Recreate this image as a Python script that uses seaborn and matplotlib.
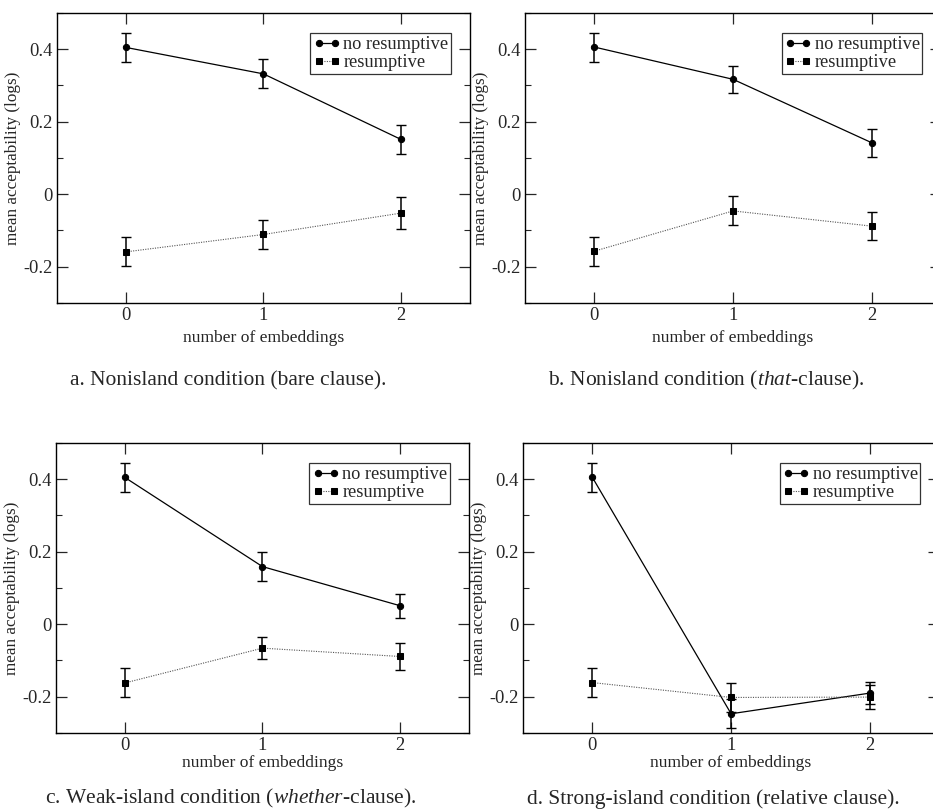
import numpy as np
import pandas as pd
import seaborn as sns
import matplotlib.pyplot as plt
from matplotlib.ticker import MultipleLocator

embeddings = [0, 1, 2]
conditions = ['no resumptive', 'resumptive']
panels = ['a', 'b', 'c', 'd']
captions = {
    'a': 'a. Nonisland condition (bare clause).',
    'b': 'b. Nonisland condition ($\\it{that}$-clause).',
    'c': 'c. Weak-island condition ($\\it{whether}$-clause).',
    'd': 'd. Strong-island condition (relative clause).',
}

# means
no_res_mean = {'a': [0.405, 0.332, 0.151], 'b': [0.406, 0.317, 0.142],
               'c': [0.405, 0.159, 0.051], 'd': [0.405, -0.247, -0.190]}
res_mean = {'a': [-0.159, -0.111, -0.052], 'b': [-0.157, -0.046, -0.088],
            'c': [-0.162, -0.066, -0.089], 'd': [-0.161, -0.202, -0.201]}
# error bar half widths
no_res_err = {'a': [0.040, 0.040, 0.039], 'b': [0.040, 0.038, 0.038],
              'c': [0.040, 0.040, 0.033], 'd': [0.040, 0.040, 0.031]}
res_err = {'a': [0.040, 0.040, 0.044], 'b': [0.040, 0.040, 0.038],
           'c': [0.040, 0.031, 0.038], 'd': [0.040, 0.040, 0.034]}


def get_data():
    rows = []
    for p in panels:
        for cond, means, errs in [('no resumptive', no_res_mean, no_res_err),
                                  ('resumptive', res_mean, res_err)]:
            for x, m, e in zip(embeddings, means[p], errs[p]):
                rows.append({'panel': p, 'condition': cond, 'embeddings': x, 'mean': m, 'err': e})
    return pd.DataFrame(rows)


styles = {
    'no resumptive': dict(color='black', linestyle='-', marker='o', lw=0.9, ms=4.5),
    'resumptive': dict(color='#555555', linestyle=(0, (1, 1.2)), marker='s', lw=0.8, ms=4),
}

# axes rectangles [left, bottom, width, height] in figure fractions
positions = {
    'a': [0.0611, 0.6264, 0.4426, 0.3576],
    'b': [0.5627, 0.6264, 0.4460, 0.3576],
    'c': [0.0600, 0.0962, 0.4426, 0.3576],
    'd': [0.5606, 0.0962, 0.4460, 0.3576],
}
caption_pos = {'a': (0.075, 0.5247), 'b': (0.587, 0.5247),
               'c': (0.048, 0.009), 'd': (0.565, 0.009)}
xlabel_pad = {'a': 4, 'b': 4, 'c': 0.5, 'd': 0.5}


def main():
    sns.set_theme(style='ticks')
    plt.rcParams['font.family'] = ['Liberation Serif', 'DejaVu Serif']
    plt.rcParams['mathtext.fontset'] = 'custom'
    plt.rcParams['mathtext.it'] = 'Liberation Serif:italic'
    plt.rcParams['mathtext.rm'] = 'Liberation Serif'

    df = get_data()
    fig = plt.figure(figsize=(9.33, 8.11), dpi=100)

    for p in panels:
        ax = fig.add_axes(positions[p])
        sub = df[df['panel'] == p]
        for cond in conditions:
            d = sub[sub['condition'] == cond]
            st = styles[cond]
            ax.errorbar(d['embeddings'], d['mean'], yerr=d['err'], fmt='none',
                        ecolor='black', elinewidth=1.1, capsize=3.5, capthick=1.0, zorder=2)
            sns.lineplot(data=d, x='embeddings', y='mean', ax=ax, color=st['color'],
                         linestyle=st['linestyle'], lw=st['lw'], marker=st['marker'],
                         markersize=st['ms'], markeredgecolor='black', markerfacecolor='black',
                         label=cond, zorder=3)

        ax.set_xlim(-0.5, 2.5)
        ax.set_ylim(-0.3, 0.5)
        ax.set_xticks(embeddings)
        ax.set_xticklabels(['0', '1', '2'])
        ax.set_yticks([-0.2, 0, 0.2, 0.4])
        ax.set_yticklabels(['-0.2', '0', '0.2', '0.4'])
        ax.yaxis.set_minor_locator(MultipleLocator(0.1))
        ax.tick_params(which='both', direction='in', top=True, right=True, labelsize=13.3, pad=3)
        ax.tick_params(which='major', length=8, width=0.9)
        ax.tick_params(which='minor', length=4, width=0.8)
        for s in ax.spines.values():
            s.set_linewidth(1.0)
            s.set_color('black')
        ax.set_xlabel('number of embeddings', fontsize=12.6, labelpad=xlabel_pad[p])
        ax.set_ylabel('mean acceptability (logs)', fontsize=12.3, labelpad=2)

        leg = ax.legend(loc='upper right', bbox_to_anchor=(0.955, 0.93), fontsize=13.2,
                        frameon=True, fancybox=False, handlelength=1.5, handletextpad=0.15,
                        labelspacing=0.05, borderpad=0.15, borderaxespad=0, numpoints=2)
        leg.get_frame().set_edgecolor('black')
        leg.get_frame().set_linewidth(0.9)

        fig.text(caption_pos[p][0], caption_pos[p][1], captions[p], fontsize=15.5,
                 ha='left', va='baseline')

    fig.savefig('out.png', dpi=100)


if __name__ == "__main__":
    main()
